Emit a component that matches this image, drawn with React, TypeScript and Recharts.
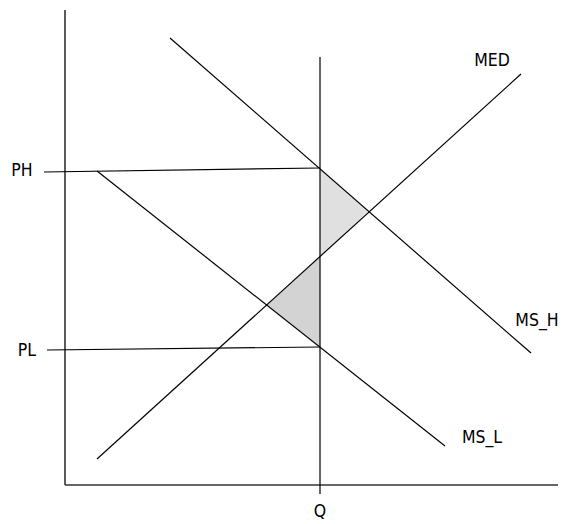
import { ComposedChart, Line, Area, XAxis, YAxis, ReferenceDot } from 'recharts';

// Coordinates are measured from the diagram's origin (the corner of the two axes).
const yAxisLine = [{ x: 0, y: 0 }, { x: 0, y: 475 }];
const xAxisLine = [{ x: 0, y: 0 }, { x: 493, y: 0 }];
const qLine = [{ x: 255, y: -9 }, { x: 255, y: 428 }];
const phLine = [{ x: -21, y: 313 }, { x: 255, y: 317 }];
const plLine = [{ x: -18, y: 135 }, { x: 255, y: 138 }];
const medLine = [{ x: 32, y: 26 }, { x: 456, y: 411 }];
const msHLine = [{ x: 105, y: 447 }, { x: 466, y: 132 }];
const msLLine = [{ x: 32, y: 314 }, { x: 380, y: 39 }];

// shaded welfare triangles, as [low, high] ranges
const upperTriangle = [{ x: 255, r: [228, 317] }, { x: 303, r: [274, 274] }];
const lowerTriangle = [{ x: 202, r: [180, 180] }, { x: 255, r: [138, 228] }];

const labels = [
    { text: 'PH', x: -43, y: 315 },
    { text: 'PL', x: -38, y: 135 },
    { text: 'MED', x: 427, y: 425 },
    { text: 'MS_H', x: 472, y: 165 },
    { text: 'MS_L', x: 417, y: 48 },
    { text: 'Q', x: 255, y: -26 },
];

const curves = [
    { key: 'q', data: qLine },
    { key: 'ph', data: phLine },
    { key: 'pl', data: plLine },
    { key: 'med', data: medLine },
    { key: 'msh', data: msHLine },
    { key: 'msl', data: msLLine },
];

export default function App() {
    return (
        <div style={{ position: 'absolute', left: 0, top: 0, background: '#fff' }}>
            <ComposedChart
                width={563}
                height={524}
                margin={{ top: 0, right: 0, bottom: 0, left: 0 }}
                style={{ fontFamily: '"DejaVu Sans Condensed", "DejaVu Sans", sans-serif' }}
            >
                <XAxis type="number" dataKey="x" domain={[-65, 498]} allowDataOverflow hide />
                <YAxis type="number" domain={[-39, 485]} allowDataOverflow hide />

                <Area data={upperTriangle} dataKey="r" type="linear" stroke="none" fill="#e0e0e0" fillOpacity={1} dot={false} activeDot={false} isAnimationActive={false} />
                <Area data={lowerTriangle} dataKey="r" type="linear" stroke="none" fill="#d3d3d3" fillOpacity={1} dot={false} activeDot={false} isAnimationActive={false} />

                {/* Axes */}
                <Line data={yAxisLine} dataKey="y" type="linear" stroke="#333" strokeWidth={1.6} dot={false} activeDot={false} isAnimationActive={false} />
                <Line data={xAxisLine} dataKey="y" type="linear" stroke="#333" strokeWidth={1.6} dot={false} activeDot={false} isAnimationActive={false} />

                {curves.map((c) => (
                    <Line
                        key={c.key}
                        data={c.data}
                        dataKey="y"
                        type="linear"
                        stroke="#000"
                        strokeWidth={1.2}
                        dot={false}
                        activeDot={false}
                        isAnimationActive={false}
                    />
                ))}

                {labels.map((l) => (
                    <ReferenceDot
                        key={l.text}
                        x={l.x}
                        y={l.y}
                        r={0}
                        fill="none"
                        stroke="none"
                        ifOverflow="visible"
                        label={{ value: l.text, position: 'center', fill: '#000', fontSize: 17.5 }}
                    />
                ))}
            </ComposedChart>
        </div>
    );
}
